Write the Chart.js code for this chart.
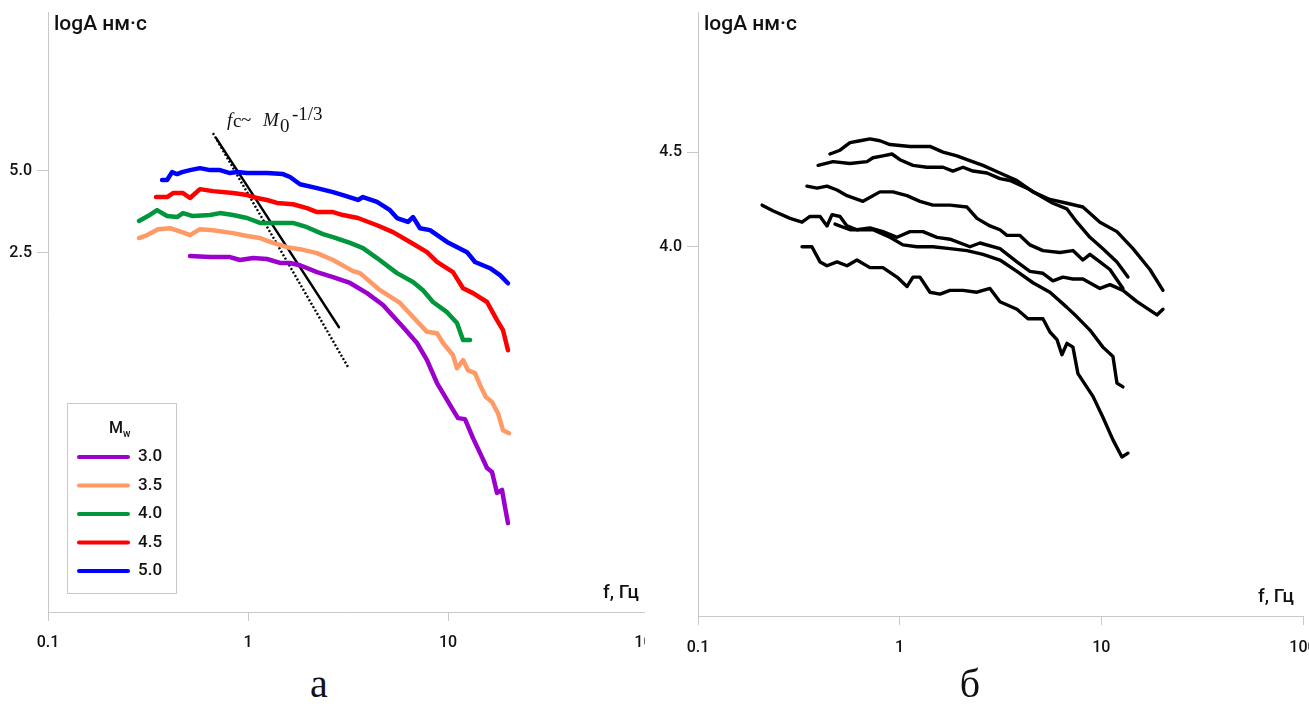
<!DOCTYPE html>
<html>
<head>
<meta charset="utf-8">
<script src="https://cdn.jsdelivr.net/npm/chart.js@4.4.1/dist/chart.umd.min.js"></script>
<style>
	body { margin: 0; width: 1309px; height: 704px; overflow: hidden; position: relative; background: #fff; }
	.panel { position: absolute; top: 0; height: 704px; overflow: hidden; }
	#panelA { left: 0; width: 645px; }
	#panelB { left: 650px; width: 659px; }
	canvas { position: absolute; left: 0; top: 0; }
	.caption { position: absolute; top: 664px; width: 60px; text-align: center; font-family: 'Liberation Serif', serif; font-size: 40px; line-height: 40px; color: #111; }
</style>
</head>
<body>
<div class="panel" id="panelA"><canvas id="chartA" width="668" height="660"></canvas></div>
<div class="panel" id="panelB"><canvas id="chartB" width="673" height="664"></canvas></div>
<div class="caption" style="left:289px">а</div>
<div class="caption" style="left:940px">б</div>

<script>
// Оси
const freqTicks = [0.1, 1, 10, 100];
const ampTicksA = [2.5, 5.0];
const ampTicksB = [4.0, 4.5];

// Рис. а: спектры для разных Mw, пары [f, logA]
const mwLabels = ['3.0', '3.5', '4.0', '4.5', '5.0'];

const mw30 = [[0.513,2.40],[0.646,2.37],[0.813,2.37],[0.912,2.28],[1.059,2.34],[1.245,2.31],[1.445,2.19],[1.622,2.19],[1.820,2.12],[2.213,1.91],[2.661,1.76],[3.236,1.58],[3.936,1.27],[4.732,0.91],[5.129,0.67],[5.957,0.24],[6.998,-0.25],[7.852,-0.77],[8.810,-1.47],[9.441,-1.78],[10.59,-2.29],[11.22,-2.54],[12.16,-2.57],[13.34,-3.15],[14.79,-3.73],[15.67,-4.06],[16.60,-4.18],[17.58,-4.82],[18.62,-4.73],[19.28,-5.25],[19.95,-5.74]];

const mw35 = [[0.285,2.95],[0.313,3.04],[0.355,3.22],[0.407,3.25],[0.468,3.13],[0.513,3.04],[0.575,3.22],[0.668,3.19],[0.841,3.10],[0.989,3.01],[1.148,2.95],[1.334,2.80],[1.567,2.67],[1.820,2.61],[2.213,2.49],[2.661,2.28],[3.350,1.94],[3.631,1.88],[4.571,1.36],[5.754,0.97],[6.683,0.54],[7.852,0.09],[8.810,0.05],[9.441,-0.25],[10.59,-0.62],[11.09,-1.02],[11.89,-0.77],[12.59,-1.08],[13.65,-1.17],[14.45,-1.53],[15.49,-1.90],[16.60,-2.05],[17.78,-2.39],[18.84,-2.91],[20.18,-3.00]];

const mw40 = [[0.285,3.47],[0.316,3.62],[0.351,3.80],[0.394,3.62],[0.442,3.59],[0.473,3.71],[0.531,3.62],[0.646,3.65],[0.724,3.71],[0.841,3.65],[0.989,3.56],[1.148,3.41],[1.396,3.41],[1.679,3.41],[1.972,3.28],[2.371,3.07],[2.661,2.98],[3.236,2.80],[3.758,2.64],[4.416,2.34],[5.559,1.88],[6.683,1.61],[7.499,1.36],[8.414,1.00],[9.886,0.69],[11.09,0.36],[11.89,-0.16],[12.88,-0.16]];

const mw45 = [[0.347,4.20],[0.394,4.20],[0.422,4.32],[0.473,4.32],[0.513,4.17],[0.575,4.44],[0.668,4.38],[0.841,4.32],[0.989,4.26],[1.109,4.17],[1.245,4.11],[1.396,4.02],[1.679,3.98],[1.972,3.86],[2.213,3.74],[2.661,3.74],[2.985,3.65],[3.548,3.56],[4.416,3.34],[5.309,3.13],[6.457,2.83],[7.852,2.52],[8.810,2.22],[10.59,1.91],[11.89,1.42],[13.34,1.27],[15.67,1.00],[17.58,0.45],[18.84,0.14],[19.95,-0.47]];

const mw50 = [[0.372,4.72],[0.394,4.72],[0.417,4.96],[0.442,4.90],[0.468,4.96],[0.513,5.02],[0.575,5.08],[0.646,5.02],[0.724,5.02],[0.813,4.93],[0.881,4.96],[0.989,4.93],[1.245,4.93],[1.496,4.90],[1.622,4.81],[1.820,4.59],[2.213,4.47],[2.661,4.35],[2.985,4.26],[3.548,4.11],[3.758,4.20],[4.416,4.05],[5.129,3.80],[5.559,3.56],[6.310,3.44],[6.683,3.59],[7.244,3.25],[8.128,3.19],[9.886,2.83],[12.45,2.52],[13.65,2.22],[16.22,2.03],[18.20,1.82],[19.95,1.57]];

// Линии fc ~ M0^-1/3
const fcSolid = [[0.692,6.00],[2.85,0.23]];
const fcDotted = [[0.668,6.15],[3.16,-0.98]];

// Рис. б: шесть спектров
const specB1 = [[0.451,4.49],[0.506,4.51],[0.567,4.55],[0.636,4.56],[0.712,4.57],[0.798,4.56],[0.895,4.54],[1.125,4.53],[1.413,4.53],[1.640,4.50],[1.923,4.48],[2.157,4.46],[2.588,4.43],[3.143,4.39],[3.815,4.35],[4.580,4.29],[5.561,4.25],[6.752,4.23],[8.102,4.21],[9.842,4.13],[11.95,4.08],[14.35,3.99],[17.42,3.88],[20.21,3.77]];

const specB2 = [[0.394,4.43],[0.467,4.45],[0.567,4.44],[0.689,4.45],[0.737,4.47],[0.826,4.48],[0.916,4.49],[1.003,4.46],[1.164,4.43],[1.365,4.42],[1.640,4.42],[1.837,4.40],[2.060,4.42],[2.309,4.40],[2.709,4.39],[3.143,4.36],[3.524,4.35],[4.277,4.31],[4.962,4.27],[5.754,4.23],[6.752,4.20],[7.568,4.13],[8.779,4.05],[10.18,3.99],[11.95,3.92],[13.55,3.84]];

const specB3 = [[0.347,4.32],[0.389,4.31],[0.436,4.32],[0.489,4.30],[0.548,4.27],[0.658,4.24],[0.798,4.29],[0.926,4.29],[1.087,4.27],[1.261,4.24],[1.463,4.22],[1.776,4.22],[2.157,4.21],[2.417,4.15],[2.804,4.11],[3.143,4.09],[3.404,4.06],[3.948,4.06],[4.426,4.01],[5.134,3.98],[6.234,3.97],[7.231,3.98],[8.102,3.93],[8.779,3.96],[9.842,3.92],[11.03,3.88],[12.80,3.78]];

const specB4 = [[0.208,4.22],[0.235,4.19],[0.286,4.15],[0.328,4.13],[0.359,4.16],[0.403,4.16],[0.436,4.11],[0.462,4.17],[0.506,4.16],[0.548,4.11],[0.614,4.09],[0.712,4.10],[0.826,4.08],[0.970,4.05],[1.125,4.08],[1.305,4.08],[1.531,4.05],[1.776,4.04],[2.231,4.00],[2.501,4.02],[3.143,3.99],[3.815,3.92],[4.426,3.87],[5.134,3.86],[5.754,3.82],[6.450,3.84],[7.231,3.83],[8.102,3.83],[9.842,3.78],[11.03,3.80],[12.80,3.77],[15.02,3.71],[18.87,3.64],[20.21,3.67]];

const specB5 = [[0.478,4.12],[0.567,4.09],[0.737,4.09],[0.895,4.05],[1.038,4.01],[1.218,4.00],[1.463,4.00],[1.776,3.99],[2.157,3.98],[2.588,3.96],[3.143,3.93],[3.815,3.87],[4.580,3.81],[5.561,3.76],[6.752,3.68],[7.568,3.63],[8.779,3.56],[10.18,3.47],[11.42,3.42],[11.95,3.28],[12.80,3.26]];

const specB6 = [[0.328,4.00],[0.367,4.00],[0.403,3.92],[0.436,3.90],[0.489,3.92],[0.548,3.90],[0.614,3.93],[0.712,3.89],[0.826,3.89],[0.970,3.84],[1.087,3.79],[1.164,3.84],[1.261,3.84],[1.413,3.76],[1.585,3.75],[1.776,3.77],[2.060,3.77],[2.417,3.76],[2.804,3.78],[3.143,3.71],[3.815,3.67],[4.326,3.62],[5.134,3.62],[5.561,3.55],[6.025,3.51],[6.377,3.43],[6.752,3.49],[7.231,3.47],[7.656,3.33],[9.088,3.21],[10.18,3.10],[11.42,2.98],[12.65,2.89],[13.55,2.91]];


const mwColors = ['#9b00cc', '#ff9966', '#00963c', '#ff0000', '#0000ff'];
const axisColor = '#c8c8c8';
const textColor = '#111';


function toPoints(arr) {
	return arr.map(p => ({ x: p[0], y: p[1] }));
}

function curve(arr, color, width, label) {
	return {
		label: label,
		data: toPoints(arr),
		borderColor: color,
		borderWidth: width,
		borderCapStyle: 'round',
		borderJoinStyle: 'round',
		pointRadius: 0,
		tension: 0,
		fill: false
	};
}


/**
 * Builds the x (log f) and y (logA) scales.
 */
function makeScales(yMin, yMax, yTicks, xPad) {
	return {
		x: {
			type: 'logarithmic',
			min: 0.1,
			max: 100,
			afterBuildTicks: (scale) => { scale.ticks = freqTicks.map(v => ({ value: v })); },
			afterFit: (scale) => { scale.height = 48; scale.paddingLeft = 0; scale.paddingRight = 0; },
			grid: { drawOnChartArea: false, drawTicks: true, tickLength: 9, color: axisColor },
			border: { color: axisColor, width: 1 },
			ticks: {
				padding: xPad,
				color: textColor,
				font: { family: 'Roboto', size: 16, weight: '500' },
				maxRotation: 0,
				autoSkip: false,
				callback: (v) => String(v)
			}
		},
		y: {
			type: 'linear',
			min: yMin,
			max: yMax,
			afterBuildTicks: (scale) => { scale.ticks = yTicks.map(v => ({ value: v })); },
			afterFit: (scale) => { scale.width = 48; scale.paddingTop = 0; scale.paddingBottom = 0; },
			grid: { drawOnChartArea: false, drawTicks: true, tickLength: 11, color: axisColor },
			border: { color: axisColor, width: 1 },
			ticks: {
				padding: 5,
				color: textColor,
				font: { family: 'Roboto', size: 16, weight: '500' },
				callback: (v) => v.toFixed(1)
			}
		}
	};
}


// Подписи осей
const axisTitles = {
	id: 'axisTitles',
	afterDraw(chart) {
		const ctx = chart.ctx;
		const area = chart.chartArea;
		ctx.save();
		ctx.fillStyle = textColor;
		ctx.font = '500 21px Roboto';
		ctx.textBaseline = 'alphabetic';
		ctx.fillText('logA нм·с', area.left + 6, 30);
		ctx.font = '500 19px Roboto';
		ctx.textBaseline = 'middle';
		ctx.fillText('f, Гц', area.right - 45, area.bottom - 19);
		ctx.restore();
	}
};

// Легенда Mw в рамке
const mwLegend = {
	id: 'mwLegend',
	afterDraw(chart) {
		const ctx = chart.ctx;
		const area = chart.chartArea;
		const left = area.left + 19;
		const top = area.bottom - 209;
		ctx.save();
		ctx.strokeStyle = axisColor;
		ctx.lineWidth = 1;
		ctx.strokeRect(left + 0.5, top + 0.5, 109, 190);

		ctx.fillStyle = textColor;
		ctx.textBaseline = 'alphabetic';
		ctx.font = '500 16px Roboto';
		ctx.fillText('M', left + 42, top + 30);
		ctx.font = '500 10px Roboto';
		ctx.fillText('w', left + 56, top + 34);

		const items = chart.data.datasets.filter(d => mwLabels.includes(d.label));
		items.forEach((d, i) => {
			const y = top + 54 + i * 28.5;
			ctx.strokeStyle = d.borderColor;
			ctx.lineWidth = 4;
			ctx.lineCap = 'round';
			ctx.beginPath();
			ctx.moveTo(left + 12, y);
			ctx.lineTo(left + 61, y);
			ctx.stroke();
			ctx.font = '500 17px Roboto';
			ctx.textBaseline = 'middle';
			ctx.fillText(d.label, left + 71, y);
		});
		ctx.restore();
	}
};

// Надпись fc ~ M0^-1/3 у начала линий
const fcNote = {
	id: 'fcNote',
	afterDraw(chart) {
		const ctx = chart.ctx;
		const x0 = chart.scales.x.getPixelForValue(fcDotted[0][0]);
		const y0 = chart.scales.y.getPixelForValue(fcDotted[0][1]);
		const parts = [
			{ t: 'f', it: true, dx: 14, dy: -7 },
			{ t: 'c', it: false, dx: 20, dy: -6 },
			{ t: '~', it: false, dx: 28, dy: -7 },
			{ t: 'M', it: true, dx: 50, dy: -7 },
			{ t: '0', it: false, dx: 67, dy: -1 },
			{ t: '-1/3', it: false, dx: 79, dy: -13 }
		];
		ctx.save();
		ctx.fillStyle = textColor;
		ctx.textBaseline = 'alphabetic';
		parts.forEach(p => {
			ctx.font = (p.it ? 'italic ' : '') + '19px "Liberation Serif"';
			ctx.fillText(p.t, x0 + p.dx, y0 + p.dy);
		});
		ctx.restore();
	}
};


window.addEventListener('load', () => {
	const datasetsA = [
		curve(mw30, mwColors[0], 4.5, mwLabels[0]),
		curve(mw35, mwColors[1], 4.5, mwLabels[1]),
		curve(mw40, mwColors[2], 4.5, mwLabels[2]),
		curve(mw45, mwColors[3], 4.5, mwLabels[3]),
		curve(mw50, mwColors[4], 4.5, mwLabels[4]),
		curve(fcSolid, '#000', 2.4, 'fc'),
		Object.assign(curve(fcDotted, '#000', 2.4, 'fc2'), { borderDash: [2, 2], borderCapStyle: 'butt' })
	];

	new Chart(document.getElementById('chartA'), {
		type: 'line',
		data: { datasets: datasetsA },
		options: {
			responsive: false,
			animation: false,
			devicePixelRatio: 1,
			layout: { padding: { left: 0, top: 12, right: 20, bottom: 0 } },
			scales: makeScales(-8.45, 9.84, ampTicksA, 12),
			plugins: { legend: { display: false }, tooltip: { enabled: false } }
		},
		plugins: [axisTitles, mwLegend, fcNote]
	});

	const datasetsB = [specB1, specB2, specB3, specB4, specB5, specB6].map((s, i) => curve(s, '#000', 3.4, 'b' + (i + 1)));

	new Chart(document.getElementById('chartB'), {
		type: 'line',
		data: { datasets: datasetsB },
		options: {
			responsive: false,
			animation: false,
			devicePixelRatio: 1,
			layout: { padding: { left: 0, top: 12, right: 20, bottom: 0 } },
			scales: makeScales(2.05, 5.24, ampTicksB, 13),
			plugins: { legend: { display: false }, tooltip: { enabled: false } }
		},
		plugins: [axisTitles]
	});
});
</script>
</body>
</html>
